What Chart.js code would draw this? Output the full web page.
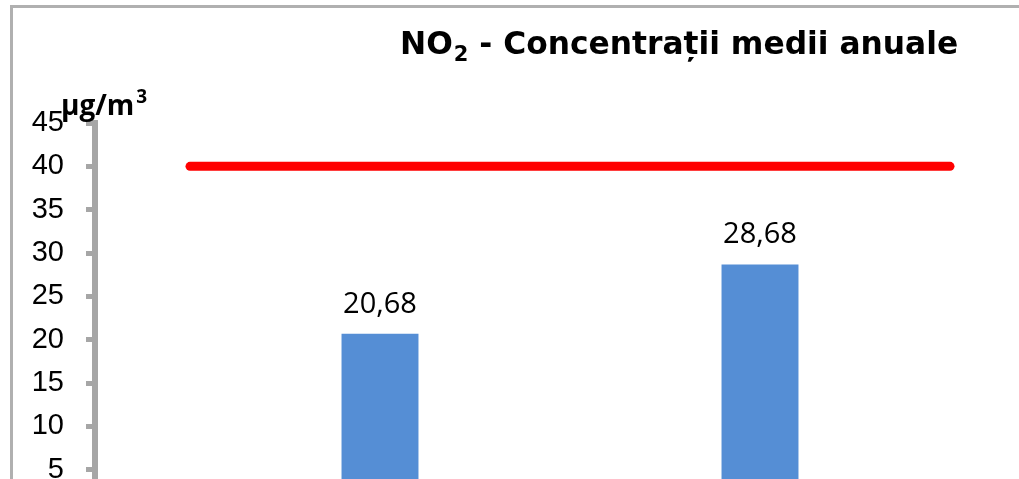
<!DOCTYPE html>
<html>
<head>
<meta charset="utf-8">
<script src="https://cdn.jsdelivr.net/npm/chart.js@4/dist/chart.umd.min.js"></script>
<style>
    html, body { margin: 0; padding: 0; background: #fff; overflow: hidden; }
    #wrap { position: absolute; left: 0; top: 0; width: 1080px; height: 600px; }
</style>
</head>
<body>
<div id="wrap"><canvas id="no2Chart" width="1080" height="600"></canvas></div>
<script>
// annual mean NO2 values, gaps where a category has no measurement
var categories = ['', '', '', '', ''];
var annualMeans = [null, 20.68, null, 28.68, null];
var limitValue = [40, 40, 40, 40, 40];
var yTicks = [0, 5, 10, 15, 20, 25, 30, 35, 40, 45];

var axisGray = '#A6A6A6';

// outer frame + title + unit label
var decorPlugin = {
    id: 'decor',
    beforeDraw(chart) {
        var ctx = chart.ctx;
        ctx.save();
        ctx.fillStyle = '#fff';
        ctx.fillRect(0, 0, chart.width, chart.height);
        ctx.strokeStyle = '#B0B0B0';
        ctx.lineWidth = 3;
        ctx.strokeRect(11.5, 6.5, chart.width, chart.height);
        ctx.restore();
    },
    afterDraw(chart) {
        var ctx = chart.ctx;
        ctx.save();
        ctx.fillStyle = '#000';
        ctx.textBaseline = 'alphabetic';
        ctx.textAlign = 'left';

        // title with subscript
        var x = 400, base = 54;
        ctx.font = 'bold 31.3px "DejaVu Sans"';
        ctx.fillText('NO', x, base);
        x += ctx.measureText('NO').width;
        ctx.font = 'bold 21px "DejaVu Sans"';
        ctx.fillText('2', x + 1, base + 7);
        x += ctx.measureText('2').width + 1;
        ctx.font = 'bold 31.3px "DejaVu Sans"';
        ctx.fillText(' - Concentrații medii anuale', x, base);

        // unit label with superscript
        ctx.font = 'bold 28px "Open Sans"';
        ctx.fillText('µg/m', 61, 115);
        var ux = 61 + ctx.measureText('µg/m').width + 2;
        ctx.font = 'bold 19px "Open Sans"';
        ctx.fillText('3', ux, 103);

        // value labels above bars
        var meta = chart.getDatasetMeta(1);
        ctx.font = '29px "Open Sans"';
        ctx.textAlign = 'center';
        meta.data.forEach(function(bar, i) {
            var v = annualMeans[i];
            if (v === null) return;
            ctx.fillText(v.toFixed(2).replace('.', ','), bar.x, bar.y - 21);
        });
        ctx.restore();
    }
};

var ctx = document.getElementById('no2Chart').getContext('2d');
var no2Chart = new Chart(ctx, {
    data: {
        labels: categories,
        datasets: [{
            type: 'line',
            label: 'Valoare limită',
            data: limitValue,
            borderColor: '#FF0000',
            borderWidth: 9,
            borderCapStyle: 'round',
            pointRadius: 0,
            fill: false,
            order: 0
        }, {
            type: 'bar',
            label: 'NO2',
            data: annualMeans,
            backgroundColor: '#558ED5',
            barPercentage: 0.405,
            categoryPercentage: 1,
            order: 1
        }]
    },
    options: {
        responsive: false,
        animation: false,
        layout: {
            padding: { left: 0, top: 123, right: 35, bottom: 47 }
        },
        plugins: {
            legend: { display: false },
            title: { display: false },
            tooltip: { enabled: false }
        },
        scales: {
            x: {
                afterFit(scale) { scale.height = 40; },
                grid: { display: false },
                border: { display: false },
                ticks: { display: false }
            },
            y: {
                min: 0,
                max: 45,
                afterFit(scale) { scale.width = 95; },
                afterBuildTicks(scale) {
                    scale.ticks = yTicks.map(function(v) { return { value: v }; });
                },
                grid: {
                    drawOnChartArea: false,
                    drawTicks: true,
                    tickLength: 9,
                    color: axisGray,
                    lineWidth: 5
                },
                border: { display: true, color: axisGray, width: 6 },
                ticks: {
                    padding: 22,
                    color: '#000',
                    font: { family: '"Liberation Sans"', size: 29 }
                }
            }
        }
    },
    plugins: [decorPlugin]
});
</script>
</body>
</html>
